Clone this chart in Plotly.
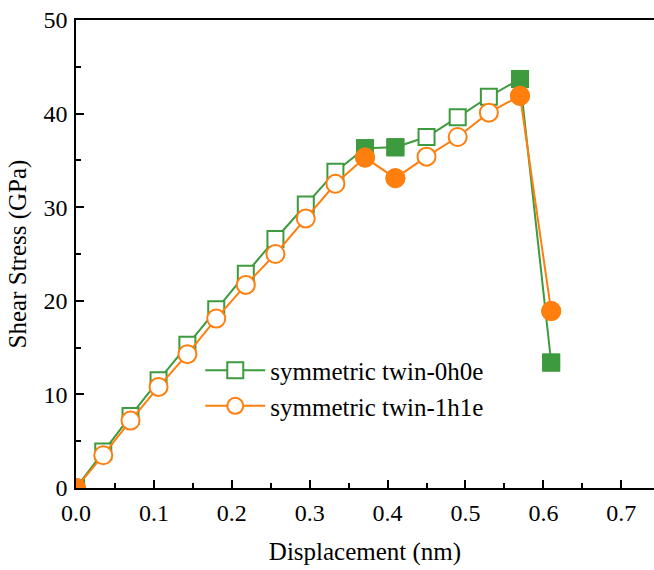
import plotly.graph_objects as go

# Displacement (nm) sampled along the loading path
displacement = [0.0, 0.035, 0.07, 0.106, 0.143, 0.18, 0.218, 0.256, 0.295,
                0.333, 0.371, 0.41, 0.45, 0.49, 0.53, 0.57, 0.61]

# Shear stress (GPa) for each twin configuration
stress_0h0e = [0.0, 3.9, 7.7, 11.5, 15.3, 19.1, 22.9, 26.6, 30.3,
               33.8, 36.3, 36.4, 37.5, 39.6, 41.8, 43.7, 13.4]
stress_1h1e = [0.0, 3.5, 7.2, 10.8, 14.3, 18.1, 21.7, 25.0, 28.8,
               32.5, 35.3, 33.1, 35.4, 37.5, 40.1, 41.9, 18.9]

# Points highlighted with solid markers
solid_idx = [0, 10, 11, 15, 16]

name_0h0e = "symmetric twin-0h0e"
name_1h1e = "symmetric twin-1h1e"

GREEN = "rgb(62,154,62)"
ORANGE = "rgb(255,127,14)"
FONT = "Liberation Serif, Times New Roman, serif"

fig = go.Figure()


def add_series(y, color, symbol, size, name, group):
    fig.add_trace(go.Scatter(
        x=displacement, y=y, mode="lines+markers", name=name,
        legendgroup=group,
        line=dict(color=color, width=2),
        marker=dict(symbol=symbol, size=size, color="white",
                    line=dict(color=color, width=2)),
    ))
    fig.add_trace(go.Scatter(
        x=[displacement[i] for i in solid_idx],
        y=[y[i] for i in solid_idx],
        mode="markers", showlegend=False, legendgroup=group,
        marker=dict(symbol=symbol, size=size + 1, color=color,
                    line=dict(color=color, width=1)),
    ))


add_series(stress_0h0e, GREEN, "square", 16, name_0h0e, "g1")
add_series(stress_1h1e, ORANGE, "circle", 18, name_1h1e, "g2")

axis_common = dict(
    showgrid=False, zeroline=False,
    showline=True, linecolor="black", linewidth=1.5,
    ticks="inside", ticklen=8, tickwidth=1.5, tickcolor="black",
    tickfont=dict(family=FONT, size=24, color="black"),
    title_font=dict(family=FONT, size=25, color="black"),
)

fig.update_xaxes(
    range=[0, 0.742], dtick=0.1, tickformat=".1f", mirror=True,
    minor=dict(dtick=0.05, ticks="inside", ticklen=5, tickwidth=1.5,
               tickcolor="black"),
    title_text="Displacement (nm)", title_standoff=18,
    ticklabelstandoff=2,
    **axis_common,
)
fig.update_yaxes(
    range=[0, 50], dtick=10,
    minor=dict(dtick=5, ticks="inside", ticklen=5, tickwidth=1.5,
               tickcolor="black"),
    title_text="Shear Stress (GPa)", title_standoff=10,
    ticklabelstandoff=2,
    **axis_common,
)

fig.update_layout(
    width=654, height=570,
    margin=dict(l=76, r=0, t=20, b=82),
    plot_bgcolor="white", paper_bgcolor="white",
    showlegend=True,
    legend=dict(
        x=0.215, y=0.30, xanchor="left", yanchor="top",
        bgcolor="rgba(0,0,0,0)", borderwidth=0,
        font=dict(family=FONT, size=25, color="black"),
        tracegroupgap=0, itemwidth=60,
    ),
)

fig.write_html("out.html")
